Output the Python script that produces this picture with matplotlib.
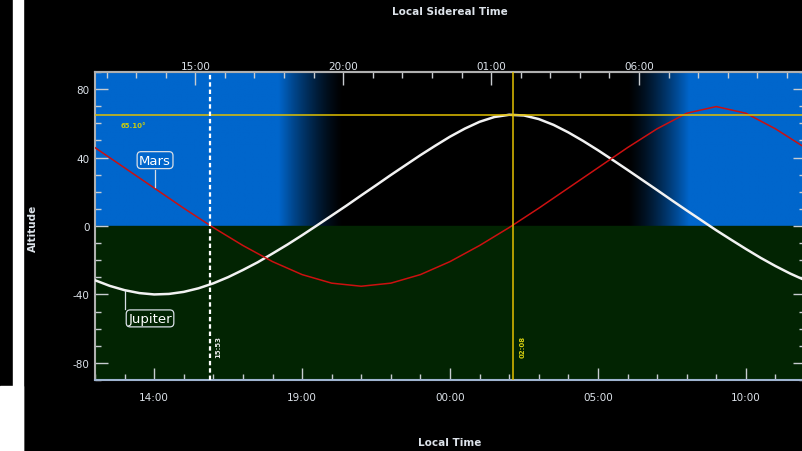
import matplotlib
matplotlib.use("Agg")
import matplotlib.pyplot as plt
import numpy as np
from matplotlib.ticker import FixedLocator, MultipleLocator, FuncFormatter
from matplotlib.patches import Rectangle

plt.rcParams['axes.unicode_minus'] = False

# local time in hours (12 = 12:00, 24 = 00:00 next day)
jup_hours = np.arange(12, 36.01, 0.5)
# altitudes in degrees, every half hour
jupiter = [-31.7, -35.0, -37.5, -39.2, -40.0, -39.7, -38.5, -36.4, -33.5, -29.9,
           -25.7, -21.2, -16.1, -10.9, -5.4, 0.3, 6.1, 11.9, 17.9, 23.8,
           29.8, 35.6, 41.4, 46.9, 52.2, 56.9, 60.9, 63.7, 65.0, 64.6,
           62.5, 59.1, 54.7, 49.7, 44.3, 38.6, 32.8, 26.9, 21.0, 15.0,
           9.1, 3.3, -2.5, -8.0, -13.4, -18.6, -23.4, -27.8, -31.7]
mars_hours = np.arange(12, 37)
mars = [45.8, 34.0, 22.2, 10.4, -0.9, -11.4, -20.8, -28.4, -33.4, -35.2,
        -33.4, -28.4, -20.8, -11.4, -0.9, 10.4, 22.2, 34.0, 45.8, 56.8,
        65.9, 69.8, 65.9, 56.8, 45.8]

max_alt = 65.10        # jupiter culmination
max_time = 26 + 8/60   # 02:08
now_time = 15 + 53/60  # 15:53
lst_offset = 0.39      # local time - local sidereal time, hours
# twilight (local time hours)
dusk_start, dusk_end = 18.2, 20.4
dawn_start, dawn_end = 30.0, 32.1

sky_blue = np.array([0, 102, 204]) / 255
ground = '#022402'
tick_col = '#c8ccd0'
text_col = '#dde3ea'
gold = '#e2c000'

fig = plt.figure(figsize=(8.02, 4.52), dpi=100, facecolor='black')
ax = fig.add_axes([95/802, 71/452, 710/802, 308/452])
ax.set_facecolor('black')

# sky shading above horizon
t = np.linspace(12, 36, 800)
b = np.interp(t, [12, dusk_start, dusk_end, dawn_start, dawn_end, 36], [1, 1, 0, 0, 1, 1])
b = b**1.4
img = (b[:, None] * sky_blue[None, :])[None, :, :]
ax.imshow(img, extent=[12, 36, 0, 90], aspect='auto', interpolation='bilinear', zorder=0)
ax.axhspan(-90, 0, color=ground, zorder=0)

ax.plot(jup_hours, jupiter, color='#f2f2f2', lw=1.8, zorder=3, solid_joinstyle='round')
ax.plot(mars_hours, mars, color='#cc1010', lw=1.1, zorder=3)

ax.axhline(max_alt, color=gold, lw=1.1, zorder=4)
ax.axvline(max_time, color=gold, lw=1.1, zorder=4)
ax.axvline(now_time, color='white', lw=1.6, ls=(0, (2, 1.3)), zorder=4)

ax.text(12.88, 59, '65.10°', color='#c8cc10', fontsize=5, fontweight='bold', va='center', ha='left')
ax.text(16.16, -70, '15:53', color='#e8e8e8', fontsize=5, fontweight='bold', rotation=90,
        va='center', ha='center')
ax.text(26.46, -70, '02:08', color='#d8d010', fontsize=5, fontweight='bold', rotation=90,
        va='center', ha='center')

box = dict(boxstyle='round,pad=0.15,rounding_size=0.3', fc='none', ec='#d8dee6', lw=0.9)
ax.text(14.03, 38.5, 'Mars', color='white', fontsize=9.5, ha='center', va='center', bbox=box, zorder=5)
ax.plot([14.03, 14.03], [32.7, 22.8], color='#d8dee6', lw=0.9, zorder=5)
ax.text(13.86, -54, 'Jupiter', color='white', fontsize=9.5, ha='center', va='center', bbox=box, zorder=5)
ax.plot([13.01, 13.01], [-38, -48.5], color='#d8dee6', lw=0.9, zorder=5)

ax.set_xlim(12, 36)
ax.set_ylim(-90, 90)

ax.xaxis.set_major_locator(FixedLocator([14, 19, 24, 29, 34]))
ax.xaxis.set_minor_locator(MultipleLocator(1))
ax.xaxis.set_major_formatter(FuncFormatter(lambda v, p: f"{int(round(v)) % 24:02d}:00"))
ax.yaxis.set_major_locator(FixedLocator([-80, -40, 0, 40, 80]))
ax.yaxis.set_minor_locator(MultipleLocator(10))

ax.tick_params(which='both', direction='in', color=tick_col, width=1.0,
               top=False, right=True, labelcolor=text_col, labelsize=7.5)
ax.tick_params(which='major', length=9)
ax.tick_params(which='minor', length=4)
ax.tick_params(axis='x', pad=9)
ax.tick_params(axis='y', pad=4)

sec = ax.secondary_xaxis('top', functions=(lambda x: x - lst_offset, lambda x: x + lst_offset))
sec.xaxis.set_major_locator(FixedLocator([15, 20, 25, 30]))
sec.xaxis.set_minor_locator(MultipleLocator(1))
sec.xaxis.set_major_formatter(FuncFormatter(lambda v, p: f"{int(round(v)) % 24:02d}:00"))
sec.tick_params(which='both', direction='in', color=tick_col, width=1.0,
                labelcolor=text_col, labelsize=7.5, pad=1)
sec.tick_params(which='major', length=9)
sec.tick_params(which='minor', length=4)
sec.spines['top'].set_color('#a8a8a8')
sec.spines['top'].set_linewidth(1.5)

for side in ['left', 'right', 'top']:
    ax.spines[side].set_color('#b0b0b0')
    ax.spines[side].set_linewidth(1.5)
ax.spines['bottom'].set_color('#9fb4d0')
ax.spines['bottom'].set_linewidth(1.5)

fig.text(450/802, 1 - 12/452, 'Local Sidereal Time', color=text_col, fontsize=7.5,
         fontweight='bold', ha='center', va='center')
fig.text(450/802, 1 - 443/452, 'Local Time', color=text_col, fontsize=7.5,
         fontweight='bold', ha='center', va='center')
fig.text(33/802, 1 - 228/452, 'Altitude', color=text_col, fontsize=7.5,
         fontweight='bold', ha='center', va='center', rotation=90)

# white margin strips of the screenshot
fig.patches.append(Rectangle((13/802, 0), 10/802, 1, transform=fig.transFigure,
                             color='white', zorder=-1))
fig.patches.append(Rectangle((0, 0), 23/802, 65/452, transform=fig.transFigure,
                             color='white', zorder=-1))

fig.savefig('out.png', dpi=100, facecolor='black')
